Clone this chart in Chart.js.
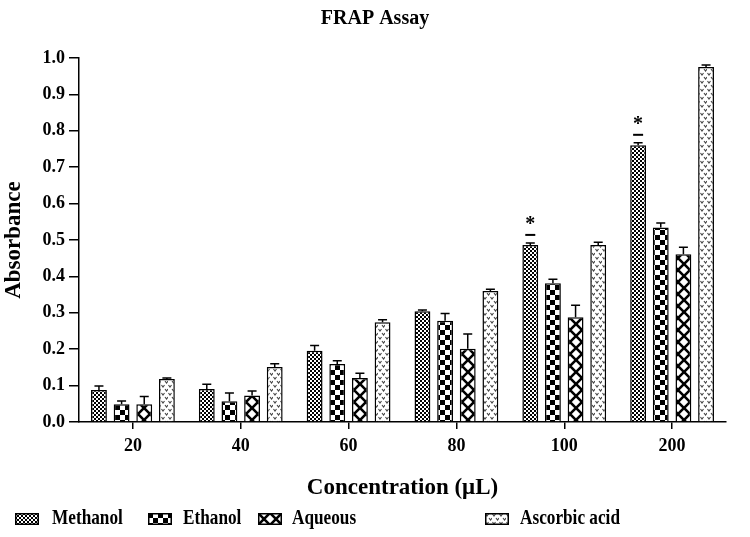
<!DOCTYPE html>
<html>
<head>
<meta charset="utf-8">
<script src="https://cdn.jsdelivr.net/npm/chart.js@4.4.1/dist/chart.umd.min.js"></script>
<style>
  body { margin: 0; background: #fff; }
  #wrap { position: relative; width: 750px; height: 537px; }
  .leg { position: absolute; top: 505px; font: bold 21px "Liberation Serif", serif; color: #000; white-space: nowrap; }
  .leg canvas { position: absolute; top: 0px; }
  .leg span { position: absolute; display: inline-block; transform: scaleX(0.82); transform-origin: 0 50%; }
</style>
</head>
<body>
<div id="wrap">
  <canvas id="myChart" width="750" height="537"></canvas>
  <div class="leg" style="left:15px"><canvas id="sw0" width="24" height="12" style="top:8px"></canvas><span style="left:37px">Methanol</span></div>
  <div class="leg" style="left:148px"><canvas id="sw1" width="24" height="12" style="top:8px"></canvas><span style="left:35px">Ethanol</span></div>
  <div class="leg" style="left:258px"><canvas id="sw2" width="24" height="12" style="top:8px"></canvas><span style="left:34px">Aqueous</span></div>
  <div class="leg" style="left:485px"><canvas id="sw3" width="24" height="12" style="top:8px"></canvas><span style="left:35px">Ascorbic acid</span></div>
</div>
<script>
// data
var concentrations = ['20', '40', '60', '80', '100', '200'];
var seriesNames = ['Methanol', 'Ethanol', 'Aqueous', 'Ascorbic acid'];

var methanol = [0.088, 0.091, 0.196, 0.304, 0.486, 0.760];
var methanolErr = [0.011, 0.013, 0.014, 0.004, 0.006, 0.007];
var ethanol = [0.049, 0.057, 0.159, 0.278, 0.381, 0.534];
var ethanolErr = [0.009, 0.023, 0.009, 0.020, 0.011, 0.013];
var aqueous = [0.049, 0.073, 0.121, 0.201, 0.288, 0.461];
var aqueousErr = [0.021, 0.012, 0.013, 0.041, 0.033, 0.019];
var ascorbic = [0.118, 0.151, 0.274, 0.360, 0.486, 0.975];
var ascorbicErr = [0.003, 0.009, 0.007, 0.005, 0.008, 0.006];

// significance stars (methanol only)
var methanolSig = [false, false, false, false, true, true];

var yTicks = [0.0, 0.1, 0.2, 0.3, 0.4, 0.5, 0.6, 0.7, 0.8, 0.9, 1.0];

var FONT = 'Liberation Serif';

/* fill patterns */
function makePattern(kind) {
    var c = document.createElement('canvas');
    var g = c.getContext('2d');
    if (kind == 0) {
        c.width = 4; c.height = 4;
        g.fillStyle = '#fff'; g.fillRect(0, 0, 4, 4);
        g.fillStyle = '#000';
        g.fillRect(0, 0, 2, 2); g.fillRect(2, 2, 2, 2);
    } else if (kind == 1) {
        c.width = 10; c.height = 10;
        g.fillStyle = '#fff'; g.fillRect(0, 0, 10, 10);
        g.fillStyle = '#000';
        g.fillRect(0, 0, 5, 5); g.fillRect(5, 5, 5, 5);
    } else if (kind == 2) {
        c.width = 12; c.height = 12;
        g.fillStyle = '#fff'; g.fillRect(0, 0, 12, 12);
        g.strokeStyle = '#000'; g.lineWidth = 2.6;
        g.beginPath();
        g.moveTo(-1, -1); g.lineTo(13, 13);
        g.moveTo(13, -1); g.lineTo(-1, 13);
        g.stroke();
    } else {
        c.width = 7; c.height = 8;
        g.fillStyle = '#fff'; g.fillRect(0, 0, 7, 8);
        g.strokeStyle = '#444'; g.lineWidth = 1.1;
        g.beginPath();
        g.moveTo(0.5, 1); g.lineTo(2, 3); g.lineTo(3.5, 1);
        g.moveTo(4, 5); g.lineTo(5.5, 7); g.lineTo(7, 5);
        g.stroke();
    }
    return document.getElementById('myChart').getContext('2d').createPattern(c, 'repeat');
}

var patterns = [makePattern(0), makePattern(1), makePattern(2), makePattern(3)];

// legend swatches
for (var i = 0; i < 4; i++) {
    var sw = document.getElementById('sw' + i);
    var sg = sw.getContext('2d');
    sg.fillStyle = patterns[i];
    sg.fillRect(0, 0, sw.width, sw.height);
    sg.strokeStyle = '#000'; sg.lineWidth = 1.5;
    sg.strokeRect(0.75, 0.75, sw.width - 1.5, sw.height - 1.5);
}

var errors = [methanolErr, ethanolErr, aqueousErr, ascorbicErr];

// error bars and stars
var errorBars = {
    id: 'errorBars',
    afterDatasetsDraw: function(chart) {
        var ctx = chart.ctx;
        var y = chart.scales.y;
        ctx.save();
        ctx.strokeStyle = '#000';
        ctx.lineWidth = 1.5;
        chart.data.datasets.forEach(function(ds, i) {
            var meta = chart.getDatasetMeta(i);
            meta.data.forEach(function(bar, j) {
                var top = y.getPixelForValue(ds.data[j]);
                var errTop = y.getPixelForValue(ds.data[j] + errors[i][j]);
                ctx.beginPath();
                ctx.moveTo(bar.x, top);
                ctx.lineTo(bar.x, errTop);
                ctx.moveTo(bar.x - 4.5, errTop);
                ctx.lineTo(bar.x + 4.5, errTop);
                ctx.stroke();
                if (i == 0 && methanolSig[j]) {
                    ctx.lineWidth = 2;
                    ctx.beginPath();
                    ctx.moveTo(bar.x - 5, errTop - 8);
                    ctx.lineTo(bar.x + 5, errTop - 8);
                    ctx.stroke();
                    ctx.lineWidth = 1.5;
                    ctx.fillStyle = '#000';
                    ctx.font = 'bold 20px ' + FONT;
                    ctx.textAlign = 'center';
                    ctx.textBaseline = 'middle';
                    ctx.fillText('*', bar.x, errTop - 18);
                }
            });
        });
        ctx.restore();
    }
};

var seriesData = [methanol, ethanol, aqueous, ascorbic];

var ctx = document.getElementById('myChart');

var myChart = new Chart(ctx, {
    type: 'bar',
    data: {
        labels: concentrations,
        datasets: seriesNames.map(function(name, i) {
            return {
                label: name,
                data: seriesData[i],
                backgroundColor: patterns[i],
                borderColor: '#000',
                borderWidth: 1.5,
                categoryPercentage: 0.84,
                barPercentage: 0.7
            };
        })
    },
    options: {
        responsive: false,
        animation: false,
        devicePixelRatio: 1,
        layout: { padding: { left: 0, right: 0, top: 0, bottom: 35 } },
        plugins: {
            legend: { display: false },
            tooltip: { enabled: false },
            title: {
                display: true,
                text: 'FRAP Assay',
                color: '#000',
                font: { family: FONT, weight: 'bold', size: 20 },
                padding: { top: 7, bottom: 27 }
            }
        },
        scales: {
            x: {
                offset: true,
                grid: { display: true, drawOnChartArea: false, offset: false, tickLength: 7, color: '#000', lineWidth: 1.5 },
                border: { display: true, color: '#000', width: 1.5 },
                ticks: { color: '#000', padding: 7, font: { family: FONT, weight: 'bold', size: 18 } },
                title: {
                    display: true,
                    text: 'Concentration (μL)',
                    color: '#000',
                    font: { family: FONT, weight: 'bold', size: 23 },
                    padding: { top: 4, bottom: 0 }
                },
                afterFit: function(scale) { scale.height = 80; }
            },
            y: {
                min: 0,
                max: 1,
                afterBuildTicks: function(scale) {
                    scale.ticks = yTicks.map(function(v) { return { value: v }; });
                },
                grid: { display: true, drawOnChartArea: false, tickLength: 10, color: '#000', lineWidth: 1.5 },
                border: { display: true, color: '#000', width: 1.5 },
                ticks: {
                    color: '#000',
                    padding: 4,
                    font: { family: FONT, weight: 'bold', size: 18 },
                    callback: function(v) { return Number(v).toFixed(1); }
                },
                title: {
                    display: true,
                    text: 'Absorbance',
                    color: '#000',
                    font: { family: FONT, weight: 'bold', size: 23 },
                    padding: { top: 0, bottom: 0 }
                },
                afterFit: function(scale) { scale.width = 79; }
            },
            // empty right margin so the title centres on the page
            yRight: {
                position: 'right',
                display: true,
                grid: { display: false },
                border: { display: false },
                ticks: { display: false },
                afterFit: function(scale) { scale.width = 24; }
            }
        }
    },
    plugins: [errorBars]
});
</script>
</body>
</html>
